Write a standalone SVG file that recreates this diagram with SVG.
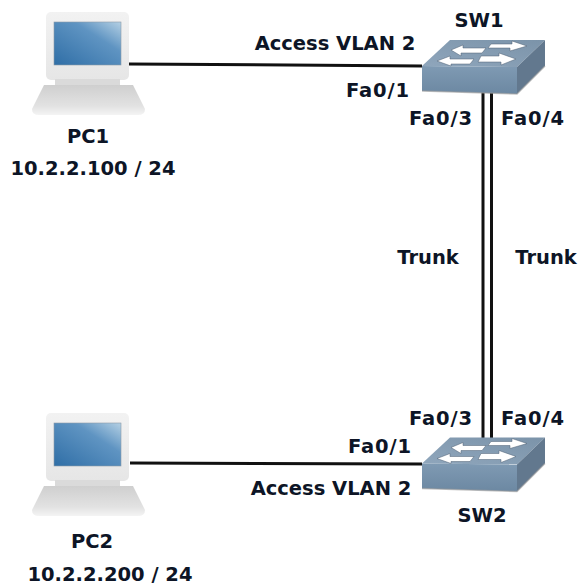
<svg xmlns="http://www.w3.org/2000/svg" xmlns:xlink="http://www.w3.org/1999/xlink" width="580" height="585" viewBox="0 0 580 585">
<style>
text{font-family:"DejaVu Sans","Liberation Sans",sans-serif;font-weight:bold;font-size:19.5px;fill:#0d1526;text-anchor:middle}
.fa{letter-spacing:.9px}
.link{stroke:#111;stroke-width:3;fill:none}
</style>
<defs>
<linearGradient id="scr" x1="0" y1="1" x2="1" y2="0"><stop offset="0" stop-color="#2f6ea6"/><stop offset=".65" stop-color="#5f94c2"/><stop offset="1" stop-color="#b4d0e4"/></linearGradient>
<linearGradient id="mon" x1="0" y1="0" x2="0" y2="1"><stop offset="0" stop-color="#f2f2f2"/><stop offset="1" stop-color="#e6e6e6"/></linearGradient>
<linearGradient id="kb" x1="0" y1="0" x2="0" y2="1"><stop offset="0" stop-color="#cfcfcf"/><stop offset=".7" stop-color="#e2e2e2"/><stop offset="1" stop-color="#f4f4f4"/></linearGradient>
<linearGradient id="top" x1="0" y1="1" x2="1" y2="0"><stop offset="0" stop-color="#8fa6bc"/><stop offset="1" stop-color="#7b93a9"/></linearGradient>
<linearGradient id="front" x1="0" y1="0" x2="0" y2="1"><stop offset="0" stop-color="#7f9ab3"/><stop offset="1" stop-color="#6c88a2"/></linearGradient>
<g id="laptop">
<rect x="46" y="12" width="83" height="68" rx="5" fill="url(#mon)"/>
<rect x="54" y="22" width="67" height="43" fill="url(#scr)" stroke="#8a9aa8" stroke-width=".6"/>
<rect x="55" y="79" width="65" height="7" fill="#dadada"/>
<path d="M44 85H133L145 109Q145 115 138 115H39Q32 115 32 109Z" fill="url(#kb)"/>
</g>
<g id="switch">
<path d="M422 66L450 40H545L517 67Z" fill="url(#top)"/>
<path d="M517 67L545 40V66L517 94Z" fill="#62788e"/>
<path d="M422 66L517 67V94L422 91Z" fill="url(#front)"/>
<path d="M422 91L517 94L545 66" fill="none" stroke="#9a9a9a" stroke-width="1.5" opacity=".6"/>
<g fill="#fff" stroke="#4d5f72" stroke-width=".5">
<path d="M451 50L463 45V48H486L482 53H461V56Z"/>
<path d="M491 44H512V41L527 46L510 51V48H488Z"/>
<path d="M437 61L450 56V59H474L470 64H451V66Z"/>
<path d="M481 55H499V52L516 58L501 64V61H478Z" transform="translate(0 1)"/>
</g>
</g>
</defs>
<g id="connectors">
<line class="link" x1="129" y1="64" x2="422" y2="66"/>
<line class="link" x1="130" y1="463" x2="422" y2="464"/>
<line class="link" x1="483" y1="91" x2="483" y2="438"/>
<line class="link" x1="491.500" y1="91" x2="491.500" y2="438"/>
</g>
<g id="PC1"><use xlink:href="#laptop" href="#laptop"/><text x="88" y="143">PC1</text><text x="93" y="175">10.2.2.100 / 24</text></g>
<g id="PC2"><use xlink:href="#laptop" href="#laptop" y="401"/><text x="92" y="548">PC2</text><text x="110" y="581">10.2.2.200 / 24</text></g>
<g id="SW1"><use xlink:href="#switch" href="#switch"/><text x="479" y="27">SW1</text></g>
<g id="SW2"><use xlink:href="#switch" href="#switch" y="397.500"/><text x="482" y="522">SW2</text></g>
<g id="labels">
<text x="335" y="50">Access VLAN 2</text>
<text class="fa" x="378" y="97">Fa0/1</text>
<text class="fa" x="441" y="125">Fa0/3</text>
<text class="fa" x="533" y="125">Fa0/4</text>
<text x="428" y="264">Trunk</text>
<text x="546" y="264">Trunk</text>
<text class="fa" x="441" y="425">Fa0/3</text>
<text class="fa" x="533" y="425">Fa0/4</text>
<text class="fa" x="380" y="453">Fa0/1</text>
<text x="331" y="495">Access VLAN 2</text>
</g>
</svg>
